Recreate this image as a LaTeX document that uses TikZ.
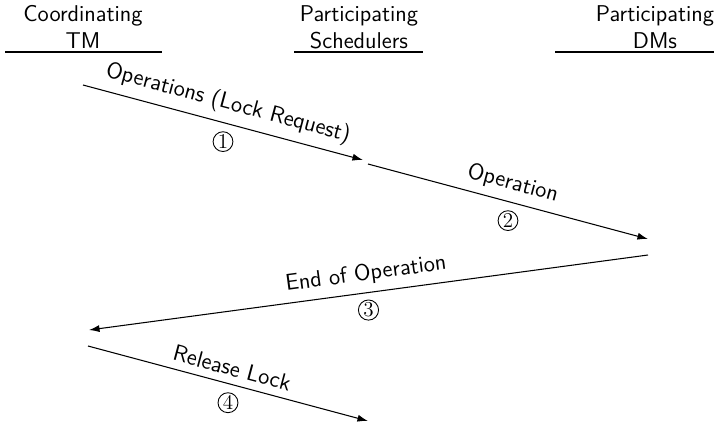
\documentclass[tikz,border=0pt]{standalone}
\usetikzlibrary{arrows.meta}
\begin{document}
\begin{tikzpicture}[x=0.02cm,y=-0.02cm,line width=0.6pt,font=\sffamily\fontsize{13}{15.5}\selectfont]
        \tikzset{
            head/.style={align=center,anchor=north,inner sep=0pt},
            msg/.style={-{Latex[length=6pt,width=4pt]}},
            num/.style={circle,draw,line width=0.5pt,inner sep=0.5pt,minimum size=0.39cm,font=\rmfamily\large}
        }
        \useasboundingbox (0,0) rectangle (714,427);

        %%%%%%%% Intestazioni %%%%%%%%
        \node[head] (tm) at (83,5) {Coordinating\\TM};
        \node[head] (sched) at (359,5) {Participating\\Schedulers};
        \node[head] (dm) at (655,5) {Participating\\DMs};
        \draw (5,52) -- (162,52);
        \draw (294,52) -- (423,52);
        \draw (555,52) -- (714,52);

        %%%%%%%% Estremi %%%%%%%%
        \coordinate (op1a) at (83,85);
        \coordinate (op1b) at (363,160);
        \coordinate (op2a) at (368,164);
        \coordinate (op2b) at (648,239);
        \coordinate (op3a) at (648,255);
        \coordinate (op3b) at (89,330);
        \coordinate (op4a) at (88,346);
        \coordinate (op4b) at (368,421);

        %%%%%%%% Messaggi %%%%%%%%
        \draw[msg] (op1a) -- (op1b)
            node[midway,sloped,above=1pt] (lbl1) {Operations (Lock Request)}
            node[midway,below=5pt,num] (n1) {1};
        \draw[msg] (op2a) -- (op2b)
            node[midway,sloped,above=1pt] (lbl2) {Operation}
            node[midway,below=5pt,num] (n2) {2};
        \draw[msg] (op3a) -- (op3b)
            node[midway,sloped,above=1pt] (lbl3) {End of Operation}
            node[midway,below=4pt,num] (n3) {3};
        \draw[msg] (op4a) -- (op4b)
            node[midway,sloped,above=1pt] (lbl4) {Release Lock}
            node[midway,below=5pt,num] (n4) {4};
    \end{tikzpicture}
\end{document}
